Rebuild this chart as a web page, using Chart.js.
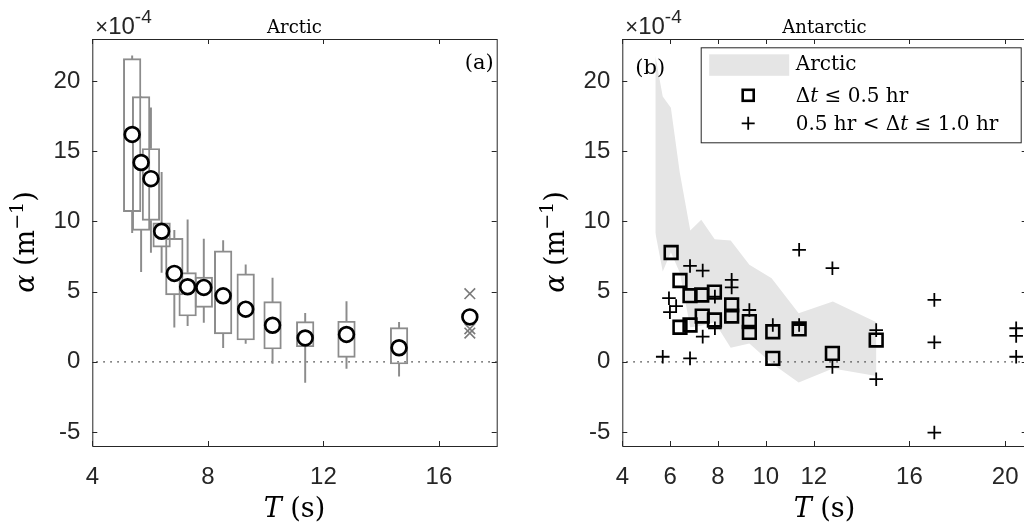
<!DOCTYPE html>
<html>
<head>
<meta charset="utf-8">
<script src="https://cdn.jsdelivr.net/npm/chart.js@4.4.0/dist/chart.umd.min.js"></script>
<style>
html, body { margin: 0; padding: 0; background: #fff; overflow: hidden; width: 1024px; height: 530px; }
#wrapA { position: absolute; left: 0; top: 0; width: 520px; height: 530px; }
#wrapB { position: absolute; left: 520px; top: 0; width: 530px; height: 530px; }
</style>
</head>
<body>
<div id="wrapA"><canvas id="chartA"></canvas></div>
<div id="wrapB"><canvas id="chartB"></canvas></div>
<script>
// Arctic box statistics per wave period bin (alpha in units of 1e-4 m^-1)
const arcticPeriod = [5.38, 5.69, 6.03, 6.40, 6.84, 7.30, 7.86, 8.53, 9.31, 10.24, 11.37, 12.80, 14.62];
const arcticMean   = [16.2, 14.2, 13.05, 9.3, 6.3, 5.35, 5.3, 4.7, 3.75, 2.6, 1.7, 1.95, 1.0];
const arcticQ1     = [10.7, 9.36, 10.07, 8.17, 4.76, 3.26, 3.88, 1.98, 1.55, 0.91, 1.07, 0.31, -0.16];
const arcticQ3     = [21.6, 18.9, 15.2, 9.9, 8.8, 6.36, 6.03, 7.91, 6.26, 4.29, 2.86, 2.89, 2.43];
const arcticLow    = [9.2, 6.43, 7.8, 6.36, 2.46, 2.57, 2.81, 1.0, 1.31, -0.11, -1.47, -0.47, -1.02];
const arcticHigh   = [21.8, 18.9, 18.1, 13.5, 9.36, 10.12, 8.74, 8.64, 6.91, 5.96, 3.46, 4.29, 2.81];

// single long-period Arctic bin (mean plus individual values)
const arcticLongT      = [17.07];
const arcticLongMean   = [3.2];
const arcticLongPtsT   = [17.07, 17.07, 17.07];
const arcticLongPtsVal = [4.85, 2.35, 2.05];

// Antarctic, dt <= 0.5 hr
const antSquareT = [6.04, 6.41, 6.41, 6.83, 6.83, 7.32, 7.34, 7.85, 7.85, 8.57, 8.57, 9.31, 9.31, 10.29, 10.29, 11.39, 12.78, 14.61];
const antSquareV = [7.79, 5.79, 2.46, 4.71, 2.62, 4.76, 3.26, 4.96, 2.98, 4.05, 3.26, 2.86, 2.10, 2.14, 0.24, 2.34, 0.60, 1.55];

// Antarctic, 0.5 hr < dt <= 1.0 hr
const antPlusT = [5.69, 5.95, 6.25, 5.99, 6.83, 6.83, 7.36, 7.36, 7.87, 7.87, 8.57, 8.57, 9.31, 10.29, 11.39, 11.39, 12.78, 12.78, 14.61, 14.61, 17.04, 17.04, 17.04, 20.46, 20.46, 20.46];
const antPlusV = [0.36, 4.53, 3.97, 3.54, 6.83, 0.24, 6.5, 1.79, 4.64, 2.39, 5.84, 5.3, 3.69, 2.62, 7.98, 2.62, 6.67, -0.36, 2.26, -1.24, 4.41, 1.39, -5.04, 2.39, 1.84, 0.36];

const yTicks  = [-5, 0, 5, 10, 15, 20];
const xTicksA = [4, 8, 12, 16];
const xTicksB = [4, 6, 8, 10, 12, 16, 20];

const titleA = 'Arctic';
const titleB = 'Antarctic';
const legendArctic = 'Arctic';

const axisColor = '#262626';
const boxGray = '#8c8c8c';
const shadeGray = '#e5e5e5';
const sans = '"Liberation Sans", Arial, sans-serif';
const serif = '"DejaVu Serif", "Liberation Serif", serif';

const pts = (xs, ys) => xs.map((x, i) => ({ x: x, y: ys[i] }));

// draw a run of text pieces, each with its own font and baseline shift
function drawRich(ctx, parts, x, y, align) {
  let total = 0;
  parts.forEach(p => { ctx.font = p.font; total += ctx.measureText(p.t).width; });
  let cx = align === 'center' ? x - total / 2 : (align === 'right' ? x - total : x);
  ctx.textAlign = 'left';
  ctx.textBaseline = 'alphabetic';
  parts.forEach(p => {
    ctx.font = p.font;
    ctx.fillText(p.t, cx, y + (p.dy || 0));
    cx += ctx.measureText(p.t).width;
  });
}

function drawZero(chart) {
  const { ctx, chartArea, scales } = chart;
  const y = scales.y.getPixelForValue(0);
  ctx.save();
  ctx.strokeStyle = '#333';
  ctx.lineWidth = 1.3;
  ctx.setLineDash([1.5, 5.5]);
  ctx.beginPath();
  ctx.moveTo(chartArea.left + 4, y);
  ctx.lineTo(chartArea.right, y);
  ctx.stroke();
  ctx.restore();
}

function drawFrame(chart, xTicks) {
  const { ctx, chartArea: a, scales } = chart;
  ctx.save();
  ctx.strokeStyle = axisColor;
  ctx.lineWidth = 1;
  ctx.strokeRect(a.left + 0.5, a.top + 0.5, a.right - a.left, a.bottom - a.top);
  ctx.beginPath();
  xTicks.forEach(v => {
    const x = Math.round(scales.x.getPixelForValue(v)) + 0.5;
    ctx.moveTo(x, a.bottom); ctx.lineTo(x, a.bottom - 5);
    ctx.moveTo(x, a.top); ctx.lineTo(x, a.top + 5);
  });
  yTicks.forEach(v => {
    const y = Math.round(scales.y.getPixelForValue(v)) + 0.5;
    ctx.moveTo(a.left, y); ctx.lineTo(a.left + 5, y);
    ctx.moveTo(a.right, y); ctx.lineTo(a.right - 5, y);
  });
  ctx.stroke();
  ctx.restore();
}

function drawLabels(chart, title, tag, tagPos) {
  const { ctx, chartArea: a } = chart;
  const cx = (a.left + a.right) / 2;
  ctx.save();
  ctx.fillStyle = '#000';
  drawRich(ctx, [{ t: title, font: '18px ' + serif }], cx, 33, 'center');
  ctx.fillStyle = axisColor;
  drawRich(ctx, [
    { t: '\u00d7', font: '22px ' + sans },
    { t: '10', font: '24px ' + sans },
    { t: '-4', font: '19px ' + sans, dy: -11 }
  ], a.left + 3, 34, 'left');
  ctx.fillStyle = '#000';
  drawRich(ctx, [{ t: tag, font: '21px ' + serif }], tagPos.x, tagPos.y, tagPos.align);
  drawRich(ctx, [
    { t: 'T', font: 'italic 27px ' + serif },
    { t: ' (s)', font: '27px ' + serif }
  ], cx, 517, 'center');
  ctx.translate(a.left - 58, 242);
  ctx.rotate(-Math.PI / 2);
  drawRich(ctx, [
    { t: '\u03b1', font: 'italic 27px ' + serif },
    { t: ' (m', font: '27px ' + serif },
    { t: '\u22121', font: '19px ' + serif, dy: -11 },
    { t: ')', font: '27px ' + serif }
  ], 0, 0, 'center');
  ctx.restore();
}

function drawLegend(chart) {
  const { ctx } = chart;
  const L = 180.7, T = 47.3, W = 320, H = 95;
  ctx.save();
  ctx.fillStyle = '#fff';
  ctx.fillRect(L, T, W, H);
  ctx.strokeStyle = axisColor;
  ctx.lineWidth = 1;
  ctx.strokeRect(L + 0.5, T + 0.5, W, H);
  ctx.fillStyle = shadeGray;
  ctx.fillRect(L + 8.5, T + 7, 80, 21.5);
  // square marker
  ctx.strokeStyle = '#000';
  ctx.lineWidth = 2.6;
  ctx.strokeRect(L + 47.5 - 5.5, T + 48 - 5.5, 11, 11);
  // plus marker
  ctx.lineWidth = 1.8;
  ctx.beginPath();
  ctx.moveTo(L + 47.5 - 6.5, T + 76); ctx.lineTo(L + 47.5 + 6.5, T + 76);
  ctx.moveTo(L + 47.5, T + 69.5); ctx.lineTo(L + 47.5, T + 82.5);
  ctx.stroke();
  ctx.fillStyle = '#000';
  const f = '20px ' + serif, fi = 'italic 20px ' + serif;
  drawRich(ctx, [{ t: legendArctic, font: f }], L + 95, T + 23, 'left');
  drawRich(ctx, [{ t: '\u0394', font: f }, { t: 't', font: fi }, { t: ' \u2264 0.5 hr', font: f }], L + 95, T + 54.5, 'left');
  drawRich(ctx, [{ t: '0.5 hr < \u0394', font: f }, { t: 't', font: fi }, { t: ' \u2264 1.0 hr', font: f }], L + 95, T + 83, 'left');
  ctx.restore();
}

function baseScales(xMin, xMax, xTicks, yWidth) {
  return {
    x: {
      type: 'linear', min: xMin, max: xMax, offset: false,
      afterBuildTicks: s => { s.ticks = xTicks.map(v => ({ value: v })); },
      afterFit: s => { s.height = 84; },
      grid: { display: false, drawTicks: false },
      border: { display: false },
      ticks: { font: { family: sans, size: 24 }, color: axisColor, padding: 17, maxRotation: 0, autoSkip: false }
    },
    y: {
      type: 'linear', min: -6, max: 23,
      afterBuildTicks: s => { s.ticks = yTicks.map(v => ({ value: v })); },
      afterFit: s => { s.width = yWidth; },
      grid: { display: false, drawTicks: false },
      border: { display: false },
      ticks: { font: { family: sans, size: 24 }, color: axisColor, padding: 12, autoSkip: false }
    }
  };
}

const commonPlugins = { legend: { display: false }, tooltip: { enabled: false } };

// Panel (a): Arctic box plots
new Chart(document.getElementById('chartA'), {
  type: 'scatter',
  data: {
    datasets: [
      {
        type: 'bar', label: 'box', order: 5, grouped: false,
        data: arcticPeriod.map((t, i) => ({ x: t, y: [arcticQ1[i], arcticQ3[i]] })),
        backgroundColor: 'rgba(0,0,0,0)', borderColor: boxGray, borderWidth: 1.3,
        borderSkipped: false, barThickness: 17.6
      },
      {
        type: 'bar', label: 'upper whisker', order: 6, grouped: false,
        data: arcticPeriod.map((t, i) => ({ x: t, y: [arcticQ3[i], arcticHigh[i]] })),
        backgroundColor: boxGray, borderWidth: 0, barThickness: 1.3
      },
      {
        type: 'bar', label: 'lower whisker', order: 6, grouped: false,
        data: arcticPeriod.map((t, i) => ({ x: t, y: [arcticLow[i], arcticQ1[i]] })),
        backgroundColor: boxGray, borderWidth: 0, barThickness: 1.3
      },
      {
        label: 'long period values', order: 2,
        data: pts(arcticLongPtsT, arcticLongPtsVal),
        pointStyle: 'crossRot', pointRadius: 7.5, borderColor: '#7a7a7a', borderWidth: 1.6
      },
      {
        label: 'mean', order: 1,
        data: pts(arcticPeriod.concat(arcticLongT), arcticMean.concat(arcticLongMean)),
        pointStyle: 'circle', pointRadius: 7.4, borderColor: '#000', backgroundColor: '#fff', borderWidth: 2.7
      }
    ]
  },
  options: {
    responsive: true, maintainAspectRatio: false, animation: false,
    layout: { padding: { top: 39, left: 0, right: 23.3, bottom: 0 } },
    scales: baseScales(4, 18, xTicksA, 92.3),
    plugins: commonPlugins
  },
  plugins: [{
    id: 'decorA',
    beforeDatasetsDraw: chart => drawZero(chart),
    afterDraw: chart => {
      drawFrame(chart, xTicksA);
      drawLabels(chart, titleA, '(a)', { x: chart.chartArea.right - 3, y: 69, align: 'right' });
    }
  }]
});

// Panel (b): Antarctic points over the Arctic range
new Chart(document.getElementById('chartB'), {
  type: 'scatter',
  data: {
    datasets: [
      {
        label: 'dt <= 0.5 hr', order: 1,
        data: pts(antSquareT, antSquareV),
        pointStyle: 'rect', pointRadius: 9, borderColor: '#000', backgroundColor: 'rgba(0,0,0,0)', borderWidth: 2.6
      },
      {
        label: '0.5 hr < dt <= 1.0 hr', order: 2,
        data: pts(antPlusT, antPlusV),
        pointStyle: 'cross', pointRadius: 6.8, borderColor: '#000', borderWidth: 1.8
      },
      {
        type: 'line', label: 'Arctic high', order: 10,
        data: pts(arcticPeriod, arcticHigh),
        fill: '+1', backgroundColor: shadeGray, borderWidth: 0, pointRadius: 0, tension: 0
      },
      {
        type: 'line', label: 'Arctic low', order: 11,
        data: pts(arcticPeriod, arcticLow),
        fill: false, borderWidth: 0, pointRadius: 0, tension: 0
      }
    ]
  },
  options: {
    responsive: true, maintainAspectRatio: false, animation: false,
    layout: { padding: { top: 39, left: 0, right: 23.3, bottom: 0 } },
    scales: baseScales(4, 20.9, xTicksB, 102.3),
    plugins: Object.assign({ filler: { propagate: false } }, commonPlugins)
  },
  plugins: [{
    id: 'decorB',
    afterDatasetDraw: (chart, args) => { if (args.index === 2) drawZero(chart); },
    afterDraw: chart => {
      drawFrame(chart, xTicksB);
      drawLabels(chart, titleB, '(b)', { x: chart.chartArea.left + 13, y: 74, align: 'left' });
      drawLegend(chart);
    }
  }]
});
</script>
</body>
</html>
